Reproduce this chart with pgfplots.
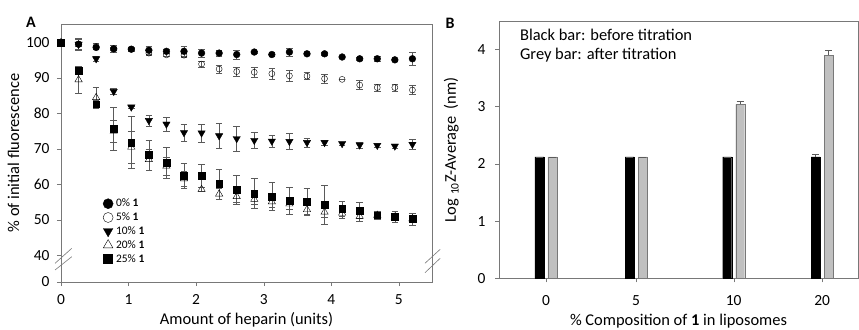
\documentclass[border=0pt]{standalone}
\usepackage{pgfplots}
\pgfplotsset{compat=1.18}
\usepackage{pgfplotstable}
\usepackage{fontspec}
\setmainfont{Carlito}

\pgfplotstableread{
x    y0    e0   y5    e5   y10   e10  y20   e20  y25   e25
0.00 100.0 0.0  100.0 0.0  100.0 0.0  100.0 0.0  100.0 0.0
0.26 99.5  1.5  99.5  0.5  99.5  1.8  89.5  3.8  92.0  0.8
0.52 98.6  0.5  98.9  0.8  95.4  0.8  84.5  3.0  82.6  1.0
0.78 98.2  0.5  98.2  1.0  86.2  0.8  75.0  3.0  75.7  6.0
1.04 98.1  0.3  98.1  0.5  81.8  0.3  70.5  4.5  71.8  7.3
1.30 97.8  1.1  97.0  0.5  78.0  1.6  67.0  3.0  68.3  4.2
1.56 97.5  0.5  96.5  0.5  77.0  2.0  65.2  2.5  66.1  4.3
1.82 97.5  1.4  96.4  0.5  74.6  2.3  61.6  2.0  62.5  3.5
2.08 97.0  1.2  93.9  0.8  74.5  2.5  58.6  0.5  62.5  3.2
2.34 97.0  0.9  92.5  1.2  73.7  3.5  57.3  1.5  60.1  4.2
2.60 96.6  1.3  91.8  1.2  72.9  3.5  56.6  1.5  58.4  4.1
2.86 97.3  0.3  91.6  1.5  72.4  2.3  55.8  1.5  57.4  4.2
3.12 96.6  0.5  91.2  1.5  72.2  1.6  55.1  1.5  56.6  3.9
3.38 97.3  1.1  90.6  1.5  72.1  2.2  54.5  1.5  55.5  3.8
3.64 96.8  0.3  90.5  1.0  71.8  1.3  52.9  1.5  55.2  3.7
3.90 96.8  0.3  89.8  1.2  71.8  0.7  52.2  1.5  54.3  5.6
4.16 95.9  0.3  89.6  0.0  71.5  0.5  51.9  1.5  53.1  2.2
4.42 95.4  0.3  88.0  1.3  71.1  0.8  51.0  1.5  52.7  2.3
4.68 95.4  0.6  87.3  1.0  71.0  0.5  51.3  1.0  51.3  1.2
4.94 95.1  0.3  87.3  1.0  70.8  0.5  50.8  1.0  50.8  1.6
5.20 95.4  1.8  86.6  1.2  71.3  1.5  50.3  1.0  50.3  1.7
}\dataA

\pgfplotstableread{
x    b    eb   g    eg
0    2.12 0.0  2.12 0.0
0.98 2.12 0.0  2.12 0.0
2.04 2.12 0.0  3.04 0.06
3.00 2.12 0.05 3.90 0.09
}\dataB

\definecolor{axgray}{RGB}{120,120,120}
\definecolor{errgray}{RGB}{90,90,90}
\definecolor{bargray}{RGB}{192,192,192}

\pgfplotsset{
  common/.style={
    scale only axis,
    tick align=outside,
    major tick length=4bp,
    tick style={axgray},
    axis line style={axgray},
    ticklabel style={font=\fontsize{15.5}{18}\selectfont},
    label style={font=\fontsize{16.5}{19}\selectfont},
    /pgf/number format/assume math mode=true,
    clip=false,
  },
  ebar/.style={error bars/.cd, y dir=both, y explicit,
    error bar style={errgray, line width=0.5pt},
    error mark options={rotate=90, mark size=3.3bp, errgray, line width=0.5pt},
    /pgfplots/.cd},
  ebarB/.style={error bars/.cd, y dir=plus, y explicit,
    error bar style={errgray, line width=0.5pt},
    error mark options={rotate=90, mark size=3.5bp, errgray, line width=0.5pt},
    /pgfplots/.cd},
}

\begin{document}
\begin{tikzpicture}
\path[use as bounding box] (0,0) rectangle (859bp,330bp);

% ---------------- Panel A ----------------
\begin{axis}[common,
  at={(61bp,48bp)}, anchor=south west,
  width=371bp, height=258bp,
  xmin=0, xmax=5.49, ymin=0, ymax=72.7,
  xtick={0,1,2,3,4,5},
  ytick={0,7.5,17.5,27.5,37.5,47.5,57.5,67.5},
  yticklabels={0,40,50,60,70,80,90,100},
  xtick pos=bottom, ytick pos=left,
  xticklabel style={yshift=-5bp},
  yticklabel style={xshift=-4bp},
  xlabel={Amount of heparin (units)},
  xlabel style={yshift=-1bp},
  ylabel={\% of initial fluorescence},
  legend cell align=left,
  legend style={draw=none, fill=none, font=\fontsize{11.5}{13}\selectfont,
    inner sep=0pt, at={(0.113,0.33)}, anchor=north west, row sep=0.5bp},
  legend image code/.code={\path[draw=none, fill=none] (0bp,0bp) -- (11bp,0bp);
    \draw[#1] plot coordinates {(5bp,0bp)};},
]
\addlegendimage{only marks, mark=*, mark size=5bp, black}
\addlegendentry{0\% \textbf{1}}
\addlegendimage{only marks, mark=o, mark size=5bp, black}
\addlegendentry{5\% \textbf{1}}
\addlegendimage{only marks, mark=triangle*, mark size=5.5bp, black, mark options={rotate=180}}
\addlegendentry{10\% \textbf{1}}
\addlegendimage{only marks, mark=triangle, mark size=5.5bp, black}
\addlegendentry{20\% \textbf{1}}
\addlegendimage{only marks, mark=square*, mark size=4.5bp, black}
\addlegendentry{25\% \textbf{1}}

\addplot[only marks, mark=*, mark size=3.4bp, black, forget plot, ebar]
  table[x=x, y expr=\thisrow{y0}-32.5, y error=e0] {\dataA};
\addplot[only marks, mark=o, mark size=3.0bp, black, mark options={fill=white}, forget plot, ebar]
  table[x=x, y expr=\thisrow{y5}-32.5, y error=e5] {\dataA};
\addplot[only marks, mark=triangle*, mark size=4.2bp, black, mark options={rotate=180}, forget plot, ebar]
  table[x=x, y expr=\thisrow{y10}-32.5, y error=e10] {\dataA};
\addplot[only marks, mark=triangle, mark size=4.2bp, black, mark options={fill=white}, forget plot, ebar]
  table[x=x, y expr=\thisrow{y20}-32.5, y error=e20] {\dataA};
\addplot[only marks, mark=square*, mark size=3.4bp, black, forget plot, ebar]
  table[x=x, y expr=\thisrow{y25}-32.5, y error=e25] {\dataA};

% axis break marks
\draw[axgray, line width=0.6pt] (rel axis cs:-0.016,0.0725) -- (rel axis cs:0.029,0.1306);
\draw[axgray, line width=0.6pt] (rel axis cs:-0.016,0.0465) -- (rel axis cs:0.029,0.098);
\draw[axgray, line width=0.6pt] (rel axis cs:0.981,0.0725) -- (rel axis cs:1.022,0.1267);
\draw[axgray, line width=0.6pt] (rel axis cs:0.981,0.036) -- (rel axis cs:1.022,0.0919);
\end{axis}

% ---------------- Panel B ----------------
\begin{axis}[common,
  at={(499bp,51.7bp)}, anchor=south west,
  width=359bp, height=257bp,
  xmin=-0.51, xmax=3.39, ymin=0, ymax=4.49,
  xtick={0,0.98,2.04,3}, xticklabels={0,5,10,20},
  ytick={0,1,2,3,4},
  xtick pos=bottom, ytick pos=left,
  xticklabel style={yshift=-10bp},
  yticklabel style={xshift=-6bp},
  xlabel={\% Composition of \textbf{1} in liposomes},
  xlabel style={yshift=-1bp},
  ylabel={Log \textsubscript{10}Z-Average\ \ (nm)},
  ylabel style={yshift=12bp},
]
\addplot[ybar, bar width=9bp, bar shift=-6.5bp, fill=black, draw=black]
  table[x=x, y=b] {\dataB};
\addplot[ybar, bar width=9bp, bar shift=6.5bp, fill=bargray, draw=axgray]
  table[x=x, y=g] {\dataB};
% error bars, centred on their bars (bar shift 6.5bp = 0.0707 x units)
\addplot[draw=none, mark=none, forget plot, ebarB]
  table[x expr=\thisrow{x}-0.0707, y=b, y error=eb] {\dataB};
\addplot[draw=none, mark=none, forget plot, ebarB]
  table[x expr=\thisrow{x}+0.0707, y=g, y error=eg] {\dataB};
\node[anchor=west, font=\fontsize{16.5}{19}\selectfont] at (rel axis cs:0.049,0.947) {Black bar: before titration};
\node[anchor=west, font=\fontsize{16.5}{19}\selectfont] at (rel axis cs:0.049,0.869) {Grey bar: after titration};
\end{axis}

\node[font=\bfseries\fontsize{16}{19}\selectfont] at (31bp,308bp) {A};
\node[font=\bfseries\fontsize{16}{19}\selectfont] at (450bp,307bp) {B};
\end{tikzpicture}
\end{document}
